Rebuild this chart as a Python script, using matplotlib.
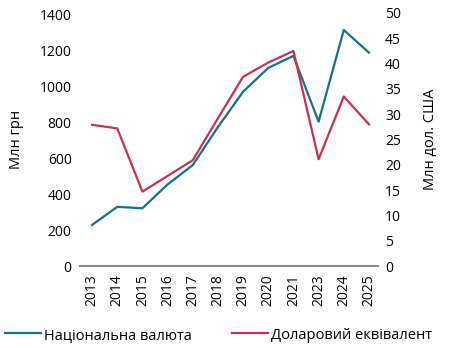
import numpy as np
import matplotlib.pyplot as plt

plt.rcParams['font.family'] = ['Open Sans', 'DejaVu Sans']

# Дані
years = ['2013', '2014', '2015', '2016', '2017', '2018', '2019', '2020', '2021', '2023', '2024', '2025']
uah = [229, 330, 322, 455, 563, 775, 972, 1105, 1172, 805, 1316, 1190]   # млн грн
usd = [27.9, 27.2, 14.7, 17.8, 20.9, 29.2, 37.4, 40.2, 42.5, 21.1, 33.5, 28.0]  # млн дол. США

teal = '#13718a'
red = '#c9304f'

fig = plt.figure(figsize=(4.49, 3.48), dpi=100)
ax = fig.add_axes([80 / 449, 82 / 348, 298 / 449, 253 / 348])
ax2 = ax.twinx()

x = np.arange(len(years))
l1, = ax.plot(x, uah, color=teal, lw=1.6, label='Національна валюта')
l2, = ax2.plot(x, usd, color=red, lw=1.6, label='Доларовий еквівалент')

ax.set_xlim(-0.48, 11.36)
ax.set_ylim(0, 1411)
ax2.set_ylim(0, 50)
ax.set_yticks(range(0, 1401, 200))
ax2.set_yticks(range(0, 51, 5))
ax.set_xticks(x)
ax.set_xticklabels(years, rotation=90, fontsize=10)

for a in (ax, ax2):
    for s in ('top', 'left', 'right'):
        a.spines[s].set_visible(False)
    a.tick_params(length=0, labelsize=10)
ax2.spines['bottom'].set_visible(False)
ax.spines['bottom'].set_color('#888888')
ax.spines['bottom'].set_linewidth(1.5)
ax.tick_params(axis='x', pad=6)
ax.tick_params(axis='y', pad=6)
ax2.tick_params(axis='y', pad=5)

ax.set_ylabel('Млн грн', fontsize=10.5, labelpad=11)
ax2.set_ylabel('Млн дол. США', fontsize=10.5, labelpad=16)

fig.legend(handles=[l1, l2], loc='lower left', bbox_to_anchor=(-0.018, -0.022), ncol=2,
           frameon=False, fontsize=10.5, handlelength=2.45, handletextpad=0.2,
           columnspacing=2.8)

fig.savefig('out.png', dpi=100)
